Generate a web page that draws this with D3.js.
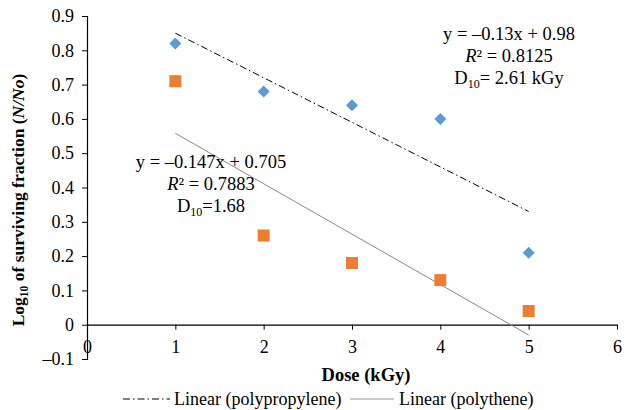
<!DOCTYPE html>
<html>
<head>
<meta charset="utf-8">
<script src="https://cdn.jsdelivr.net/npm/d3@7"></script>
<style>
  body { margin: 0; background: #fff; }
  text { font-family: "Liberation Serif", "Times New Roman", serif; }
</style>
</head>
<body>
<div id="chart"></div>
<script>
// data
const doses = [1, 2, 3, 4, 5]
const polypropylene = [0.82, 0.68, 0.64, 0.60, 0.21]
const polythene = [0.71, 0.26, 0.18, 0.13, 0.04]
const polypropyleneTrend = [[1, 0.85], [5, 0.33]]
const polytheneTrend = [[1, 0.558], [5, -0.03]]
const xTicks = [0, 1, 2, 3, 4, 5, 6]
const yTicks = [-0.1, 0, 0.1, 0.2, 0.3, 0.4, 0.5, 0.6, 0.7, 0.8, 0.9]

function draw() {
  const width = 643
  const height = 410

  const svg = d3.select('#chart')
    .append('svg')
    .attr('width', width)
    .attr('height', height)

  const x = d3.scaleLinear().domain([0, 6]).range([87, 617])
  const y = d3.scaleLinear().domain([-0.1, 0.9]).range([359, 16])

  const fmtY = d => d < 0 ? '\u2013' + Math.abs(d).toFixed(1) : (d === 0 ? '0' : d.toFixed(1))

  // y axis
  const yAxis = svg.append('g')
    .attr('transform', `translate(${x(0)},0)`)
    .call(d3.axisLeft(y).tickValues(yTicks).tickFormat(fmtY).tickSize(5).tickPadding(8))
  yAxis.select('.domain').attr('stroke', '#000').attr('stroke-width', 1.2)
  yAxis.selectAll('.tick line').attr('stroke', '#000')
  yAxis.selectAll('text').attr('font-size', 18).attr('fill', '#000')
    .style('font-family', '"Liberation Serif", serif')

  // x axis drawn on y = 0, labels below
  const xAxis = svg.append('g')
    .attr('transform', `translate(0,${y(0)})`)
    .call(d3.axisBottom(x).tickValues(xTicks).tickFormat(d3.format('d')).tickSize(5).tickPadding(11).tickSizeOuter(0))
  xAxis.select('.domain').attr('stroke', '#000').attr('stroke-width', 1.2)
  xAxis.selectAll('.tick line').attr('stroke', '#000')
  xAxis.selectAll('text').attr('font-size', 18).attr('fill', '#000')
    .style('font-family', '"Liberation Serif", serif')

  // trend lines
  const line = d3.line().x(d => x(d[0])).y(d => y(d[1]))
  svg.append('path')
    .datum(polypropyleneTrend)
    .attr('d', line)
    .attr('fill', 'none')
    .attr('stroke', '#000')
    .attr('stroke-width', 1)
    .attr('stroke-dasharray', '7,3,1.5,3')
  svg.append('path')
    .datum(polytheneTrend)
    .attr('d', line)
    .attr('fill', 'none')
    .attr('stroke', '#888')
    .attr('stroke-width', 1)

  // points
  svg.append('g').selectAll('path')
    .data(doses)
    .join('path')
    .attr('d', d3.symbol(d3.symbolSquare, 144)())
    .attr('transform', (d, i) => `translate(${x(d)},${y(polythene[i])})`)
    .attr('fill', '#ED7D31')

  svg.append('g').selectAll('path')
    .data(doses)
    .join('path')
    .attr('d', d3.symbol(d3.symbolSquare, 72)())
    .attr('transform', (d, i) => `translate(${x(d)},${y(polypropylene[i])}) rotate(45)`)
    .attr('fill', '#5B9BD5')

  // annotations
  function annot(cx, top, lines) {
    const g = svg.append('g').attr('font-size', 18.5).attr('text-anchor', 'middle')
    lines.forEach((l, i) => {
      const t = g.append('text').attr('x', cx).attr('y', top + i * 22)
      l(t)
    })
  }
  annot(509, 40, [
    t => t.text('y = \u20130.13x + 0.98'),
    t => { t.append('tspan').attr('font-style', 'italic').text('R'); t.append('tspan').text('\u00b2 = 0.8125') },
    t => { t.append('tspan').text('D'); t.append('tspan').attr('font-size', 12).attr('dy', 4).text('10'); t.append('tspan').attr('dy', -4).text('= 2.61 kGy') }
  ])
  annot(211, 168, [
    t => t.text('y = \u20130.147x + 0.705'),
    t => { t.append('tspan').attr('font-style', 'italic').text('R'); t.append('tspan').text('\u00b2 = 0.7883') },
    t => { t.append('tspan').text('D'); t.append('tspan').attr('font-size', 12).attr('dy', 4).text('10'); t.append('tspan').attr('dy', -4).text('=1.68') }
  ])

  // axis titles
  svg.append('text')
    .attr('x', 366)
    .attr('y', 381)
    .attr('text-anchor', 'middle')
    .attr('font-size', 18.5)
    .attr('font-weight', 'bold')
    .text('Dose (kGy)')

  const yt = svg.append('text')
    .attr('transform', 'translate(24,200) rotate(-90)')
    .attr('text-anchor', 'middle')
    .attr('font-size', 17.5)
    .attr('font-weight', 'bold')
  yt.append('tspan').text('Log')
  yt.append('tspan').attr('font-size', 11.5).attr('dy', 4).text('10')
  yt.append('tspan').attr('dy', -4).text(' of surviving fraction (')
  yt.append('tspan').attr('font-style', 'italic').text('N/No')
  yt.append('tspan').text(')')

  // legend
  const legend = svg.append('g').attr('font-size', 18)
  legend.append('line')
    .attr('x1', 123).attr('x2', 170).attr('y1', 399).attr('y2', 399)
    .attr('stroke', '#000').attr('stroke-dasharray', '7,3,1.5,3')
  legend.append('text').attr('x', 174).attr('y', 405).text('Linear (polypropylene)')
  legend.append('line')
    .attr('x1', 350).attr('x2', 394).attr('y1', 399).attr('y2', 399)
    .attr('stroke', '#999').attr('stroke-width', 1.2)
  legend.append('text').attr('x', 399).attr('y', 405).text('Linear (polythene)')
}

draw()
</script>
</body>
</html>
